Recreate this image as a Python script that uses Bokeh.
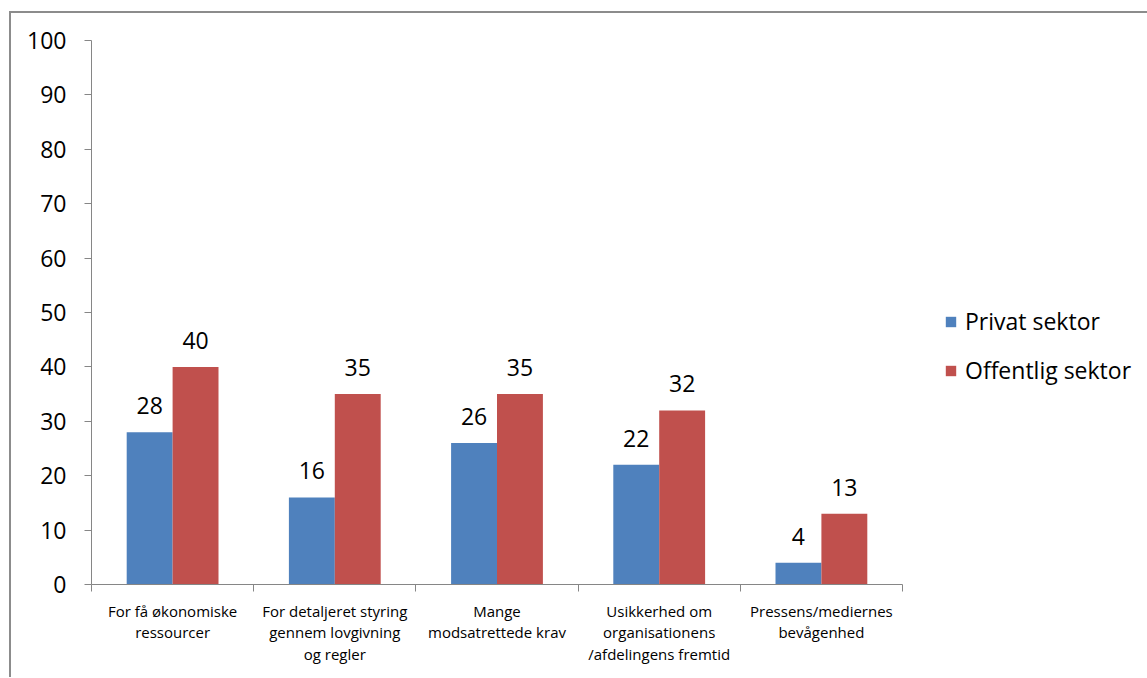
from bokeh.plotting import figure
from bokeh.models import (ColumnDataSource, FixedTicker, LabelSet, Legend, LegendItem,
                          Range1d)
from bokeh.core.properties import value
from bokeh.embed import file_html
from bokeh.resources import INLINE

# ---- data ----
categories = [
    "For få økonomiske\nressourcer",
    "For detaljeret styring\ngennem lovgivning\nog regler",
    "Mange\nmodsatrettede krav",
    "Usikkerhed om\norganisationens\n/afdelingens fremtid",
    "Pressens/mediernes\nbevågenhed",
]
privat = [28, 16, 26, 22, 4]
offentlig = [40, 35, 35, 32, 13]
series_names = ["Privat sektor", "Offentlig sektor"]
series_colors = ["#4F81BD", "#C0504D"]
y_ticks = list(range(0, 101, 10))

FONT = "Open Sans"
BIG = "23px"
BAR_W = 0.283

n = len(categories)
centers = [i + 0.5 for i in range(n)]
boundaries = list(range(n + 1))

src_p = ColumnDataSource(dict(x=[c - BAR_W / 2 for c in centers], top=privat,
                              label=[str(v) for v in privat]))
src_o = ColumnDataSource(dict(x=[c + BAR_W / 2 for c in centers], top=offentlig,
                              label=[str(v) for v in offentlig]))

# figure placed at (9, 11) with a 2px left/top border
p = figure(frame_width=811, frame_height=544, output_backend="svg",
           toolbar_location=None,
           x_range=Range1d(0, n), y_range=Range1d(0, 100),
           min_border_left=80, min_border_right=10, min_border_top=27,
           min_border_bottom=93)
p.margin = (11, 0, 0, 9)
p.styles = {"border-left": "2px solid #8C8C8C", "border-top": "2px solid #8C8C8C"}
p.outline_line_color = None
p.xgrid.visible = False
p.ygrid.visible = False
p.background_fill_color = "white"
p.border_fill_color = "white"

r1 = p.vbar(x="x", top="top", width=BAR_W, bottom=0, source=src_p,
            fill_color=series_colors[0], line_color=None)
r2 = p.vbar(x="x", top="top", width=BAR_W, bottom=0, source=src_o,
            fill_color=series_colors[1], line_color=None)

for s in (src_p, src_o):
    lbl = LabelSet(x="x", y="top", text="label", source=s, y_offset=18,
                   text_align="center", text_baseline="alphabetic",
                   text_font=value(FONT), text_font_size=value(BIG),
                   text_color="black")
    p.add_layout(lbl)

AXC = "#868686"
# y axis
ya = p.yaxis[0]
ya.ticker = FixedTicker(ticks=y_ticks)
ya.axis_line_color = AXC
ya.major_tick_line_color = AXC
ya.major_tick_out = 7
ya.major_tick_in = 0
ya.minor_tick_line_color = None
ya.major_label_standoff = 18
ya.major_label_text_font = FONT
ya.major_label_text_font_size = BIG
ya.major_label_text_color = "black"

# x axis
xa = p.xaxis[0]
xa.ticker = FixedTicker(ticks=centers, minor_ticks=boundaries)
xa.major_label_overrides = {c: lab for c, lab in zip(centers, categories)}
xa.axis_line_color = AXC
xa.major_tick_line_color = None
xa.major_tick_out = 0
xa.major_tick_in = 0
xa.minor_tick_line_color = AXC
xa.minor_tick_out = 7
xa.minor_tick_in = 0
xa.major_label_standoff = 9
xa.major_label_text_font = FONT
xa.major_label_text_font_size = "15px"
xa.major_label_text_line_height = 1.08
xa.major_label_text_color = "black"

legend = Legend(items=[LegendItem(label=series_names[0], renderers=[r1]),
                       LegendItem(label=series_names[1], renderers=[r2])],
                location=(42, 198), glyph_width=13, glyph_height=13,
                label_standoff=8, spacing=17, padding=0, margin=0,
                label_text_font=FONT, label_text_font_size=BIG,
                label_text_color="black",
                border_line_color=None, background_fill_alpha=0)
p.add_layout(legend, "right")

open("out.html", "w").write(file_html(p, INLINE))
